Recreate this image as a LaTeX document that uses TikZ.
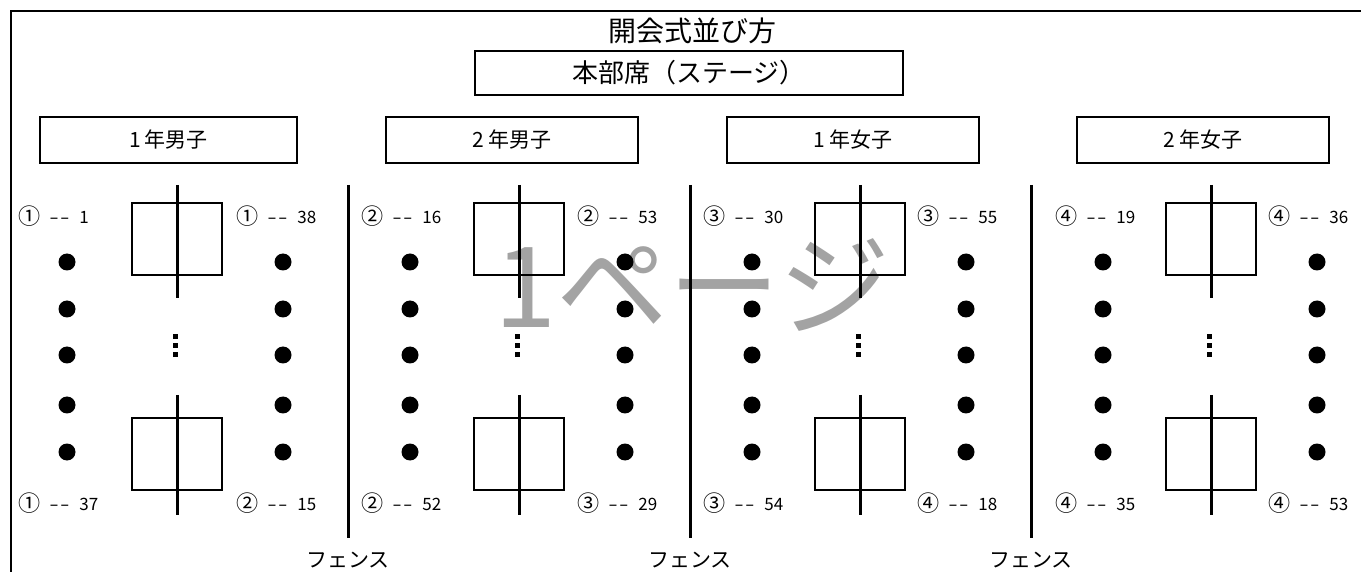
\documentclass[tikz,border=0pt]{standalone}
\usepackage{fontspec}
\newfontfamily\jpfont{Noto Sans CJK JP}
\usetikzlibrary{positioning}

\newcommand{\seatlabel}[2]{\makebox[15.5pt][l]{\raisebox{-0.12ex}{\scalebox{1.3}{#1}}}\makebox[15pt][l]{\scalebox{1.6}[1]{-\kern0.4pt-}}#2}

\begin{document}
\begin{tikzpicture}[x=0.5pt, y=-0.5pt, font=\jpfont,
        plainbox/.style={draw, line width=1pt, inner sep=0pt},
        groupbox/.style={plainbox, minimum width=126pt, minimum height=23pt, font=\jpfont\fontsize{10.5}{12}\selectfont},
        desk/.style={plainbox, minimum width=45pt, minimum height=36pt},
        seat/.style={circle, fill, inner sep=0pt, minimum size=8.5pt},
        dotsq/.style={rectangle, fill, inner sep=0pt, minimum size=2.5pt},
        seatno/.style={anchor=west, inner sep=0pt, font=\jpfont\fontsize{8.5}{9}\selectfont},
        pole/.style={line width=1.5pt},
        fence/.style={font=\jpfont\fontsize{10.5}{12}\selectfont}]
            \useasboundingbox (0,0) rectangle (1361,572);

            % Page mark in the background
            \node[text=black!36, font=\jpfont\fontsize{56}{60}\selectfont] (pagemark) at (692,285) {1ページ};

            % Outer frame (only top and left are visible)
            \coordinate (corner) at (11,11);
            \coordinate (frameright) at (1361,11);
            \coordinate (framebottom) at (11,572);
            \draw [line width=1pt] (framebottom) -- (corner) -- (frameright);

            % Title and stage
            \node[font=\jpfont\fontsize{14}{16}\selectfont] (title) at (692,31) {開会式並び方};
            \node[plainbox, minimum width=214pt, minimum height=22pt, font=\jpfont\fontsize{13}{15}\selectfont] (stage) at (689,73) {本部席（ステージ）};

            % Group boxes
            \node[groupbox, minimum width=128.5pt] (boys1) at (168.5,140) {1\,年男子};
            \node[groupbox] (boys2) at (512,140) {2\,年男子};
            \node[groupbox] (girls1) at (853,140) {1\,年女子};
            \node[groupbox] (girls2) at (1203,140) {2\,年女子};

            % Section A (1年男子)
            \node[desk] (deskA1) at (177,239) {};
            \node[desk] (deskA2) at (177,454) {};
            \coordinate (poleA1) at (177,185);
            \coordinate (poleA2) at (177,298);
            \coordinate (poleA3) at (177,395);
            \coordinate (poleA4) at (177,515);
            \draw [pole] (poleA1) -- (poleA2);
            \draw [pole] (poleA3) -- (poleA4);
            \node[seat] (seatA1) at (67,262) {};
            \node[seat] (seatA2) at (67,309) {};
            \node[seat] (seatA3) at (67,355) {};
            \node[seat] (seatA4) at (67,405) {};
            \node[seat] (seatA5) at (67,452) {};
            \node[seat] (seatA6) at (283,262) {};
            \node[seat] (seatA7) at (283,309) {};
            \node[seat] (seatA8) at (283,355) {};
            \node[seat] (seatA9) at (283,405) {};
            \node[seat] (seatA10) at (283,452) {};
            \node[dotsq] (moreA1) at (175,337) {};
            \node[dotsq] (moreA2) at (175,346) {};
            \node[dotsq] (moreA3) at (175,355) {};
            \node[seatno] (noA1) at (18,216) {\seatlabel{①}{1}};
            \node[seatno] (noA2) at (236,216) {\seatlabel{①}{38}};
            \node[seatno] (noA3) at (18,503) {\seatlabel{①}{37}};
            \node[seatno] (noA4) at (236,503) {\seatlabel{②}{15}};

            % Section B (2年男子)
            \node[desk] (deskB1) at (519,239) {};
            \node[desk] (deskB2) at (519,454) {};
            \coordinate (poleB1) at (519,185);
            \coordinate (poleB2) at (519,298);
            \coordinate (poleB3) at (519,395);
            \coordinate (poleB4) at (519,515);
            \draw [pole] (poleB1) -- (poleB2);
            \draw [pole] (poleB3) -- (poleB4);
            \node[seat] (seatB1) at (410,262) {};
            \node[seat] (seatB2) at (410,309) {};
            \node[seat] (seatB3) at (410,355) {};
            \node[seat] (seatB4) at (410,405) {};
            \node[seat] (seatB5) at (410,452) {};
            \node[seat] (seatB6) at (625,262) {};
            \node[seat] (seatB7) at (625,309) {};
            \node[seat] (seatB8) at (625,355) {};
            \node[seat] (seatB9) at (625,405) {};
            \node[seat] (seatB10) at (625,452) {};
            \node[dotsq] (moreB1) at (517,337) {};
            \node[dotsq] (moreB2) at (517,346) {};
            \node[dotsq] (moreB3) at (517,355) {};
            \node[seatno] (noB1) at (361,216) {\seatlabel{②}{16}};
            \node[seatno] (noB2) at (577,216) {\seatlabel{②}{53}};
            \node[seatno] (noB3) at (361,503) {\seatlabel{②}{52}};
            \node[seatno] (noB4) at (577,503) {\seatlabel{③}{29}};

            % Section C (1年女子)
            \node[desk] (deskC1) at (860,239) {};
            \node[desk] (deskC2) at (860,454) {};
            \coordinate (poleC1) at (860,185);
            \coordinate (poleC2) at (860,298);
            \coordinate (poleC3) at (860,395);
            \coordinate (poleC4) at (860,515);
            \draw [pole] (poleC1) -- (poleC2);
            \draw [pole] (poleC3) -- (poleC4);
            \node[seat] (seatC1) at (752,262) {};
            \node[seat] (seatC2) at (752,309) {};
            \node[seat] (seatC3) at (752,355) {};
            \node[seat] (seatC4) at (752,405) {};
            \node[seat] (seatC5) at (752,452) {};
            \node[seat] (seatC6) at (966,262) {};
            \node[seat] (seatC7) at (966,309) {};
            \node[seat] (seatC8) at (966,355) {};
            \node[seat] (seatC9) at (966,405) {};
            \node[seat] (seatC10) at (966,452) {};
            \node[dotsq] (moreC1) at (858,337) {};
            \node[dotsq] (moreC2) at (858,346) {};
            \node[dotsq] (moreC3) at (858,355) {};
            \node[seatno] (noC1) at (703,216) {\seatlabel{③}{30}};
            \node[seatno] (noC2) at (917,216) {\seatlabel{③}{55}};
            \node[seatno] (noC3) at (703,503) {\seatlabel{③}{54}};
            \node[seatno] (noC4) at (917,503) {\seatlabel{④}{18}};

            % Section D (2年女子)
            \node[desk] (deskD1) at (1211,239) {};
            \node[desk] (deskD2) at (1211,454) {};
            \coordinate (poleD1) at (1211,185);
            \coordinate (poleD2) at (1211,298);
            \coordinate (poleD3) at (1211,395);
            \coordinate (poleD4) at (1211,515);
            \draw [pole] (poleD1) -- (poleD2);
            \draw [pole] (poleD3) -- (poleD4);
            \node[seat] (seatD1) at (1103,262) {};
            \node[seat] (seatD2) at (1103,309) {};
            \node[seat] (seatD3) at (1103,355) {};
            \node[seat] (seatD4) at (1103,405) {};
            \node[seat] (seatD5) at (1103,452) {};
            \node[seat] (seatD6) at (1317,262) {};
            \node[seat] (seatD7) at (1317,309) {};
            \node[seat] (seatD8) at (1317,355) {};
            \node[seat] (seatD9) at (1317,405) {};
            \node[seat] (seatD10) at (1317,452) {};
            \node[dotsq] (moreD1) at (1209,337) {};
            \node[dotsq] (moreD2) at (1209,346) {};
            \node[dotsq] (moreD3) at (1209,355) {};
            \node[seatno] (noD1) at (1055,216) {\seatlabel{④}{19}};
            \node[seatno] (noD2) at (1268,216) {\seatlabel{④}{36}};
            \node[seatno] (noD3) at (1055,503) {\seatlabel{④}{35}};
            \node[seatno] (noD4) at (1268,503) {\seatlabel{④}{53}};

            % Fences between the sections
            \coordinate (fenceAB1) at (348,185);
            \coordinate (fenceAB2) at (348,538);
            \coordinate (fenceBC1) at (690,185);
            \coordinate (fenceBC2) at (690,538);
            \coordinate (fenceCD1) at (1031,185);
            \coordinate (fenceCD2) at (1031,538);
            \draw [pole] (fenceAB1) -- (fenceAB2);
            \draw [pole] (fenceBC1) -- (fenceBC2);
            \draw [pole] (fenceCD1) -- (fenceCD2);
            \node[fence] (fencetext1) at (348,560) {フェンス};
            \node[fence] (fencetext2) at (690,560) {フェンス};
            \node[fence] (fencetext3) at (1031,560) {フェンス};
        \end{tikzpicture}
\end{document}
